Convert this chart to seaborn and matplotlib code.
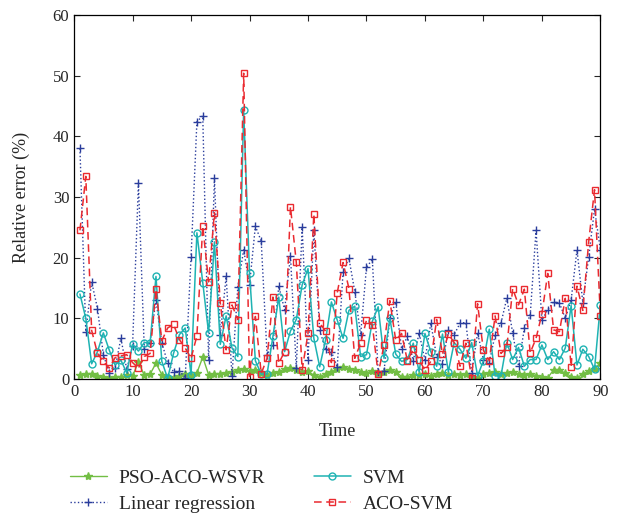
import numpy as np
import pandas as pd
import matplotlib
matplotlib.use("Agg")
import matplotlib.pyplot as plt
import seaborn as sns

# ── data (t = 1..90) ──
time = list(range(1, 91))

pso_aco_wsvr = [0.6, 0.8, 0.9, 0.5, 0.3, 0.2, 0.4, 0.3, 0.6, 0.5,
                2.8, 0.6, 0.8, 2.6, 0.7, 0.3, 0.2, 0.5, 0.9, 0.6,
                1.0, 3.6, 0.7, 0.8, 0.9, 1.0, 1.2, 1.4, 1.6, 1.3,
                1.4, 1.0, 0.7, 1.0, 1.2, 1.6, 1.8, 1.5, 1.2, 1.3,
                0.6, 0.4, 0.8, 1.2, 1.6, 2.0, 1.7, 1.5, 1.2, 1.0,
                1.3, 1.0, 1.2, 1.5, 1.2, 0.4, 0.3, 0.6, 0.7, 0.8,
                0.5, 0.8, 1.0, 0.6, 0.9, 0.7, 0.9, 0.4, 0.2, 0.9,
                1.0, 1.1, 0.9, 1.0, 1.1, 0.8, 0.6, 0.9, 0.5, 0.3,
                0.2, 1.5, 1.4, 1.0, 0.4, 0.2, 0.8, 1.3, 1.6, 2.7]

linear_reg = [38.0, 7.8, 16.0, 11.6, 4.0, 1.0, 1.8, 6.7, 1.6, 5.5,
              32.3, 5.0, 6.0, 13.0, 6.0, 2.6, 1.2, 1.3, 0.2, 20.1,
              42.4, 43.4, 3.1, 33.1, 7.3, 16.9, 0.5, 15.2, 21.3, 15.5,
              25.2, 22.7, 4.0, 5.6, 15.3, 11.4, 20.3, 1.8, 25.0, 3.2,
              24.5, 8.0, 4.9, 4.5, 2.0, 17.7, 19.9, 14.4, 7.3, 18.4,
              19.7, 1.2, 1.3, 10.0, 12.7, 5.0, 7.0, 3.0, 7.6, 3.1,
              9.2, 3.7, 2.5, 8.1, 7.3, 9.2, 9.3, 1.0, 7.6, 3.2,
              2.7, 7.3, 9.2, 13.3, 7.6, 2.1, 8.4, 10.5, 24.5, 9.7,
              11.4, 12.7, 12.5, 10.0, 13.0, 21.3, 12.6, 20.1, 28.0, 21.3]

svm = [14.0, 10.0, 2.5, 4.5, 7.6, 4.8, 2.3, 3.1, 1.0, 5.7,
       4.6, 6.0, 6.0, 16.9, 2.9, 0.1, 4.2, 7.3, 8.4, 0.7,
       24.1, 15.9, 7.6, 22.6, 5.7, 10.4, 5.1, 3.7, 44.3, 17.4,
       3.0, 0.8, 0.8, 7.0, 13.5, 4.5, 7.9, 9.8, 15.5, 18.2,
       6.7, 2.0, 6.4, 12.7, 9.7, 6.7, 11.3, 12.0, 3.7, 4.0,
       9.5, 11.9, 3.4, 10.0, 4.1, 2.9, 3.2, 5.9, 1.2, 7.5,
       4.5, 2.1, 7.4, 1.2, 6.0, 4.9, 3.4, 6.0, 0.5, 3.0,
       8.2, 0.5, 0.5, 6.0, 3.2, 5.2, 2.1, 3.2, 3.2, 5.6,
       3.2, 4.5, 3.2, 5.1, 12.1, 2.3, 4.9, 3.7, 1.6, 12.2]

aco_svm = [24.5, 33.4, 8.0, 4.2, 2.9, 1.8, 3.5, 3.8, 4.0, 2.7,
           1.8, 3.7, 4.2, 14.8, 6.3, 8.4, 9.0, 6.5, 5.1, 3.4,
           7.1, 25.2, 16.0, 27.4, 12.5, 4.8, 12.2, 9.8, 50.4, 0.4,
           10.3, 0.9, 3.4, 13.5, 2.6, 4.5, 28.4, 19.2, 1.5, 7.5,
           27.2, 9.2, 7.9, 2.7, 14.2, 19.2, 14.9, 3.4, 5.9, 9.7,
           8.9, 0.8, 5.6, 12.9, 6.4, 7.5, 3.0, 4.9, 3.2, 1.4,
           2.9, 9.8, 4.1, 7.4, 6.0, 2.1, 5.9, 0.1, 12.4, 4.7,
           3.0, 10.4, 4.2, 5.2, 14.9, 12.2, 14.8, 4.3, 6.7, 10.7,
           17.4, 8.1, 7.8, 13.3, 2.0, 15.3, 11.3, 22.6, 31.2, 10.4]

series_names = ["PSO-ACO-WSVR", "Linear regression", "SVM", "ACO-SVM"]
series_values = [pso_aco_wsvr, linear_reg, svm, aco_svm]

df = pd.concat(
    [pd.DataFrame({"Time": time, "error": v, "model": n})
     for n, v in zip(series_names, series_values)],
    ignore_index=True,
)

# ── styling per series ──
styles = {
    "PSO-ACO-WSVR": dict(color="#72be44", linestyle="-", marker="*", markersize=6,
                         markerfacecolor="#72be44", linewidth=1.0),
    "Linear regression": dict(color="#2a3d9c", linestyle=":", marker="+", markersize=6,
                              linewidth=1.0),
    "SVM": dict(color="#1fb3b3", linestyle="-", marker="o", markersize=5,
                markerfacecolor="none", linewidth=1.1),
    "ACO-SVM": dict(color="#ea2a30", linestyle=(0, (5, 3)), marker="s", markersize=5,
                    markerfacecolor="none", linewidth=1.1),
}

sns.set_style("ticks")
plt.rcParams["font.family"] = ["Liberation Serif", "DejaVu Serif"]

fig = plt.figure(figsize=(6.28, 5.17), dpi=100)
ax = fig.add_axes([0.118, 0.267, 0.838, 0.704])

for name in series_names:
    sub = df[df["model"] == name]
    st = styles[name]
    sns.lineplot(data=sub, x="Time", y="error", ax=ax, label=name,
                 color=st["color"], linestyle=st["linestyle"], marker=st["marker"],
                 markersize=st["markersize"],
                 markerfacecolor=st.get("markerfacecolor", st["color"]),
                 markeredgecolor=st["color"], markeredgewidth=1.0,
                 linewidth=st["linewidth"])

ax.set_xlim(0, 90)
ax.set_ylim(0, 60)
ax.set_xticks(range(0, 91, 10))
ax.set_yticks(range(0, 61, 10))
ax.tick_params(direction="in", top=True, right=True, labelsize=12, length=4, width=0.8)
for sp in ax.spines.values():
    sp.set_visible(True)
    sp.set_linewidth(0.9)
    sp.set_color("black")
ax.set_xlabel("Time", fontsize=13, labelpad=17)
ax.set_ylabel("Relative error (%)", fontsize=13, labelpad=16)

handles, labels = ax.get_legend_handles_labels()
ax.get_legend().remove()
fig.legend(handles, labels, loc="upper left", bbox_to_anchor=(70 / 628, 1 - 469 / 517),
           ncol=2, frameon=False, fontsize=14, handlelength=1.9, columnspacing=2.5,
           labelspacing=0.45, handletextpad=0.6, borderpad=0, borderaxespad=0)

fig.savefig("out.png", dpi=100)
